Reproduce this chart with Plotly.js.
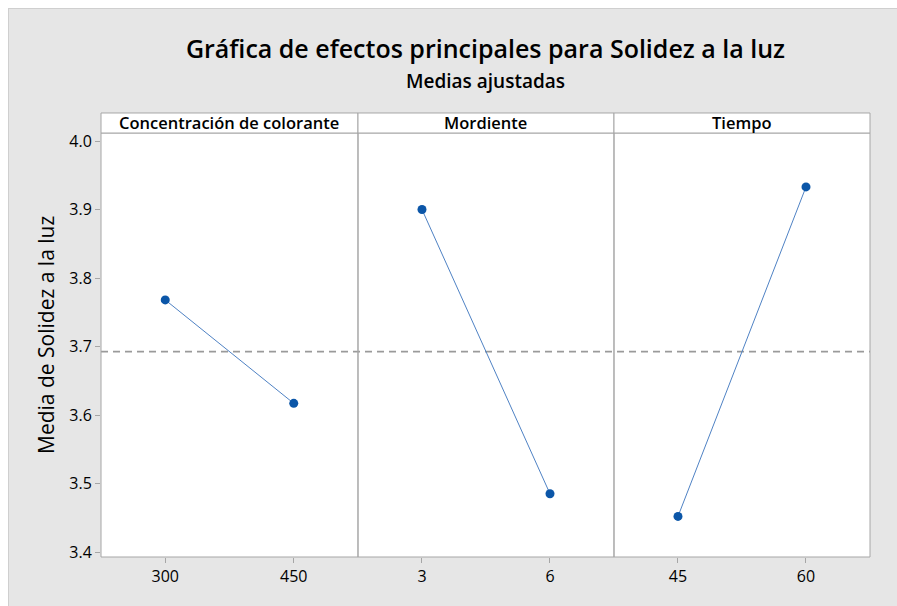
<!DOCTYPE html>
<html>
<head>
<meta charset="utf-8">
<script src="https://cdn.plot.ly/plotly-3.0.1.min.js"></script>
<style>
  html, body { margin: 0; padding: 0; background: #ffffff; }
  #chart { position: absolute; left: 8px; top: 8px; width: 889px; height: 598px;
           box-sizing: border-box; border-left: 1px solid #cfcfcf; border-top: 1px solid #cfcfcf; }
</style>
</head>
<body>
<div id="chart"></div>
<script>
// Data
const factors = ["Concentración de colorante", "Mordiente", "Tiempo"];
const levelsConc = ["300", "450"];
const levelsMord = ["3", "6"];
const levelsTiempo = ["45", "60"];
const meansConc = [3.768, 3.617];
const meansMord = [3.900, 3.485];
const meansTiempo = [3.452, 3.933];
const grandMean = [3.6925];
const yTicks = [3.4, 3.5, 3.6, 3.7, 3.8, 3.9, 4.0];
const yTickText = ["3.4", "3.5", "3.6", "3.7", "3.8", "3.9", "4.0"];

const FONT = "Open Sans, Noto Sans, sans-serif";
const lineColor = "#4f82c4";
const markerColor = "#0b56a8";
const frameColor = "#a6a6a6";

const levels = [levelsConc, levelsMord, levelsTiempo];
const means = [meansConc, meansMord, meansTiempo];
const axNames = ["x", "x2", "x3"];

const traces = levels.map((lv, i) => ({
  type: "scatter",
  mode: "lines+markers",
  x: lv,
  y: means[i],
  xaxis: axNames[i],
  yaxis: "y",
  line: { color: lineColor, width: 1 },
  marker: { color: markerColor, size: 9 },
  hoverinfo: "x+y",
  showlegend: false
}));

const domains = [[0, 0.3342], [0.3342, 0.6671], [0.6671, 1]];

function xaxis(i) {
  return {
    domain: domains[i],
    type: "category",
    range: [-0.5, 1.5],
    anchor: "y",
    showgrid: false,
    zeroline: false,
    showline: false,
    ticks: "outside",
    ticklen: 5,
    tickwidth: 1,
    tickcolor: frameColor,
    tickfont: { family: FONT, size: 16, color: "#000000" },
    fixedrange: true
  };
}

const shapes = [];
const annotations = [];
axNames.forEach((ax, i) => {
  shapes.push({
    type: "rect", xref: ax + " domain", yref: "y domain",
    x0: 0, x1: 1, y0: 0, y1: 1,
    line: { color: frameColor, width: 1 }, layer: "above"
  });
  shapes.push({
    type: "rect", xref: ax + " domain", yref: "paper",
    x0: 0, x1: 1, y0: 1, y1: 1.0472,
    fillcolor: "#ffffff",
    line: { color: frameColor, width: 1 }
  });
  annotations.push({
    text: factors[i], xref: ax + " domain", yref: "paper",
    x: 0.5, y: 1.0236, xanchor: "center", yanchor: "middle",
    showarrow: false,
    font: { family: FONT, size: 16.5, color: "#000000", weight: 600 }
  });
});

shapes.push({
  type: "line", xref: "paper", yref: "y",
  x0: 0, x1: 1, y0: grandMean[0], y1: grandMean[0],
  line: { color: "#9a9a9a", width: 1.6, dash: "7px,5px" },
  layer: "below"
});

annotations.push({
  text: "Medias ajustadas", xref: "paper", yref: "paper",
  x: 0.5, y: 1.1226, xanchor: "center", yanchor: "middle",
  showarrow: false,
  font: { family: FONT, size: 19, color: "#000000", weight: 600 }
});
annotations.push({
  text: "Media de Solidez a la luz", xref: "paper", yref: "paper",
  x: -0.0715, y: 0.5236, xanchor: "center", yanchor: "middle",
  textangle: -90, showarrow: false,
  font: { family: FONT, size: 21, color: "#000000" }
});

const layout = {
  width: 889, height: 598,
  paper_bgcolor: "#e6e6e6",
  plot_bgcolor: "#ffffff",
  margin: { l: 92, r: 28, t: 124, b: 50 },
  title: {
    text: "Gráfica de efectos principales para Solidez a la luz",
    font: { family: FONT, size: 25, color: "#000000", weight: 600 },
    x: 0.5 + (92 - 28) / 2 / 889, xanchor: "center",
    y: 1 - 40 / 598, yanchor: "middle", yref: "container"
  },
  xaxis: xaxis(0),
  xaxis2: xaxis(1),
  xaxis3: xaxis(2),
  yaxis: {
    domain: [0, 1],
    anchor: "x",
    range: [3.3927, 4.0117],
    tickvals: yTicks,
    ticktext: yTickText,
    showgrid: false,
    zeroline: false,
    showline: false,
    ticks: "outside",
    ticklen: 5,
    tickcolor: frameColor,
    tickfont: { family: FONT, size: 16, color: "#000000" },
    fixedrange: true
  },
  shapes: shapes,
  annotations: annotations,
  showlegend: false
};

Plotly.newPlot("chart", traces, layout, { displayModeBar: false, staticPlot: true });
</script>
</body>
</html>
